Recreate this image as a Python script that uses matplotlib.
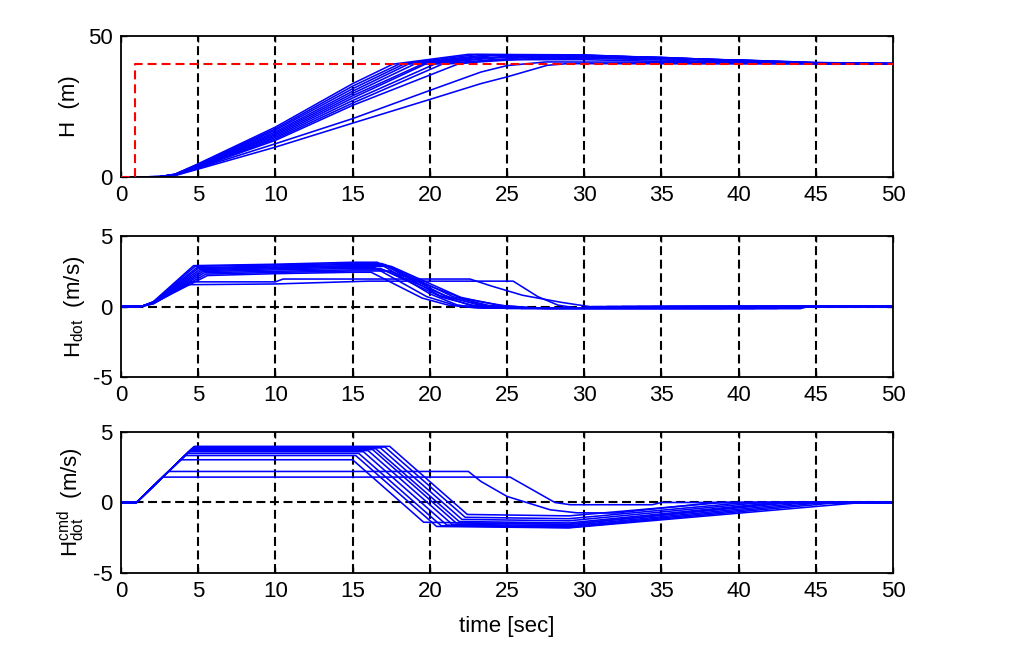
import matplotlib
matplotlib.use("Agg")
import matplotlib.pyplot as plt

plt.rcParams['font.family'] = ['Liberation Sans', 'DejaVu Sans']
plt.rcParams['mathtext.fontset'] = 'custom'
plt.rcParams['mathtext.rm'] = 'Liberation Sans'
plt.rcParams['mathtext.it'] = 'Liberation Sans'
plt.rcParams['axes.unicode_minus'] = False

# ---------------- data ----------------
X_TICKS = [0, 5, 10, 15, 20, 25, 30, 35, 40, 45, 50]

# reference altitude command
REF_T = [0, 0.9, 0.9, 50]
REF_H = [0, 0, 40, 40]

# altitude H (m): keypoint times / values for each run
H_T = [
    [0, 2.5, 3.5, 5, 10, 15, 17.6, 22.5, 30, 35, 40, 45, 50],
    [0, 2.5, 3.5, 5, 10, 15, 18.0, 23.0, 30, 35, 40, 45, 50],
    [0, 2.5, 3.5, 5, 10, 15, 18.3, 23.5, 30, 35, 40, 45, 50],
    [0, 2.5, 3.5, 5, 10, 15, 18.6, 24.0, 30, 35, 40, 45, 50],
    [0, 2.5, 3.5, 5, 10, 15, 19.0, 25.0, 30, 35, 40, 45, 50],
    [0, 2.5, 3.5, 5, 10, 15, 19.5, 23.0, 30, 35, 40, 45, 50],
    [0, 2.5, 3.5, 5, 10, 15, 19.7, 25.0, 30, 35, 40, 45, 50],
    [0, 2.5, 3.5, 5, 10, 15, 20.3, 26.0, 30, 35, 40, 45, 50],
    [0, 2.5, 3.5, 5, 10, 15, 20.8, 27.0, 30, 35, 40, 45, 50],
    [0, 2.5, 3.5, 5, 10, 15, 21.8, 24.0, 30, 35, 40, 45, 50],
    [0, 2.5, 3.5, 5, 10, 15, 20, 23.3, 25, 27.5, 35, 45, 50],
    [0, 2.5, 3.5, 5, 10, 15, 20, 23.3, 25, 27.6, 28.9, 40, 50],
]
H_V = [
    [0, 0.1, 1.0, 4.7, 17.7, 33.1, 40, 43.5, 43.3, 42.2, 40.9, 40.2, 40.1],
    [0, 0.1, 1.0, 4.5, 17.1, 32.2, 40, 43.4, 43.2, 42.3, 41.0, 40.3, 40.1],
    [0, 0.1, 0.9, 4.3, 16.6, 31.3, 40, 43.2, 43.1, 42.4, 41.2, 40.35, 40.15],
    [0, 0.1, 0.9, 4.2, 16.0, 30.4, 40, 43.0, 42.9, 42.4, 41.3, 40.4, 40.15],
    [0, 0.1, 0.9, 4.0, 15.5, 29.6, 40, 42.8, 42.7, 42.3, 41.4, 40.45, 40.2],
    [0, 0.1, 0.8, 3.9, 15.0, 28.8, 40, 42.4, 42.2, 41.5, 40.6, 40.2, 40.1],
    [0, 0.1, 0.8, 3.8, 14.5, 28.0, 40, 42.6, 42.5, 42.2, 41.4, 40.5, 40.2],
    [0, 0.1, 0.8, 3.6, 14.0, 27.1, 40, 42.3, 42.3, 42.0, 41.45, 40.55, 40.2],
    [0, 0.1, 0.7, 3.5, 13.5, 26.2, 40, 42.1, 42.1, 41.9, 41.5, 40.6, 40.25],
    [0, 0.1, 0.7, 3.3, 13.0, 25.4, 40, 41.6, 41.6, 41.0, 40.4, 40.15, 40.1],
    [0, 0.1, 0.6, 3.1, 11.8, 20.7, 30.7, 37.2, 39.5, 40.8, 40.7, 40.4, 40.3],
    [0, 0.1, 0.5, 2.8, 10.6, 19.1, 27.5, 33.1, 35.5, 39.6, 40.2, 40.1, 40.1],
]

# climb rate H_dot (m/s)
HD_T = [
    [0, 1.3, 2.1, 4.7, 10, 15, 16.6, 20.0, 21.8, 23.5, 31.0, 31.5, 50],
    [0, 1.3, 2.1, 4.8, 10, 15, 16.9, 20.6, 22.6, 24.5, 33.0, 33.5, 50],
    [0, 1.3, 2.1, 4.9, 10, 15, 17.1, 21.0, 23.2, 25.2, 35.0, 35.5, 50],
    [0, 1.3, 2.1, 5.0, 10, 15, 17.3, 21.5, 23.8, 26.0, 37.0, 37.5, 50],
    [0, 1.3, 2.1, 5.1, 10, 15, 17.5, 22.0, 24.5, 27.0, 39.0, 39.5, 50],
    [0, 1.3, 2.1, 5.2, 10, 15, 16.4, 19.8, 21.6, 23.5, 30.0, 30.5, 50],
    [0, 1.3, 2.1, 5.3, 10, 15, 16.8, 20.8, 22.8, 25.0, 41.0, 41.5, 50],
    [0, 1.3, 2.1, 5.4, 10, 15, 17.0, 21.4, 23.6, 26.0, 42.5, 43.0, 50],
    [0, 1.3, 2.1, 5.5, 10, 15, 17.4, 22.2, 24.8, 27.5, 44.0, 44.5, 50],
    [0, 1.3, 2.1, 5.6, 10, 15, 16.2, 19.5, 21.2, 23.0, 32.0, 32.5, 50],
    [0, 1.3, 2.1, 4.5, 10, 10.5, 22.6, 24.0, 26.0, 28.5, 30.0, 31.0, 36.0, 36.5, 50],
    [0, 1.3, 2.1, 4.3, 10, 16, 25.4, 27.0, 28.3, 29.5, 34.0, 34.5, 50],
]
HD_V = [
    [0, 0, 0.35, 2.90, 3.00, 3.14, 3.14, 0.90, 0.10, -0.10, -0.10, 0, 0],
    [0, 0, 0.33, 2.85, 2.95, 3.05, 3.05, 0.80, 0.10, -0.10, -0.10, 0, 0],
    [0, 0, 0.32, 2.75, 2.88, 2.98, 2.98, 0.75, 0.10, -0.12, -0.12, 0, 0],
    [0, 0, 0.30, 2.70, 2.80, 2.90, 2.90, 0.70, 0.08, -0.12, -0.12, 0, 0],
    [0, 0, 0.30, 2.62, 2.75, 2.85, 2.85, 0.65, 0.08, -0.13, -0.13, 0, 0],
    [0, 0, 0.28, 2.55, 2.68, 2.78, 2.78, 0.70, 0.10, -0.10, -0.10, 0, 0],
    [0, 0, 0.27, 2.48, 2.60, 2.70, 2.70, 0.65, 0.08, -0.14, -0.14, 0, 0],
    [0, 0, 0.26, 2.40, 2.50, 2.60, 2.60, 0.60, 0.07, -0.14, -0.14, 0, 0],
    [0, 0, 0.25, 2.30, 2.42, 2.52, 2.52, 0.55, 0.06, -0.15, -0.15, 0, 0],
    [0, 0, 0.24, 2.20, 2.33, 2.43, 2.43, 0.60, 0.10, -0.10, -0.10, 0, 0],
    [0, 0, 0.20, 1.75, 1.75, 1.95, 1.95, 1.45, 0.80, 0.30, 0.05, -0.10, -0.10, 0, 0],
    [0, 0, 0.20, 1.55, 1.60, 1.80, 1.80, 0.70, 0.10, -0.10, -0.10, 0, 0],
]

# commanded climb rate H_dot^cmd (m/s)
HC_T = [
    [0, 1.0, 4.75, 17.4, 22.43, 29, 39.0, 50],
    [0, 1.0, 4.71, 17.1, 22.29, 29, 40.5, 50],
    [0, 1.0, 4.65, 16.8, 22.08, 29, 41.5, 50],
    [0, 1.0, 4.59, 16.5, 21.90, 29, 42.5, 50],
    [0, 1.0, 4.54, 16.3, 21.70, 29, 43.5, 50],
    [0, 1.0, 4.47, 16.0, 21.45, 29, 44.5, 50],
    [0, 1.0, 4.40, 15.7, 21.10, 29, 45.5, 50],
    [0, 1.0, 4.28, 15.4, 20.74, 29, 46.5, 50],
    [0, 1.0, 4.14, 15.2, 20.44, 29, 48.0, 50],
    [0, 1.0, 3.86, 15.0, 19.60, 29, 43.0, 50],
    [0, 1.0, 3.08, 22.5, 23.3, 25.0, 27.8, 29.5, 32.0, 38.5, 50],
    [0, 1.0, 2.70, 25.2, 28.1, 29.1, 34.4, 35.0, 50],
]
HC_V = [
    [0, 0, 3.98, 3.98, -0.85, -0.95, 0, 0],
    [0, 0, 3.93, 3.93, -1.05, -1.15, 0, 0],
    [0, 0, 3.87, 3.87, -1.20, -1.30, 0, 0],
    [0, 0, 3.81, 3.81, -1.35, -1.45, 0, 0],
    [0, 0, 3.75, 3.75, -1.45, -1.55, 0, 0],
    [0, 0, 3.68, 3.68, -1.55, -1.65, 0, 0],
    [0, 0, 3.60, 3.60, -1.60, -1.72, 0, 0],
    [0, 0, 3.48, 3.48, -1.65, -1.78, 0, 0],
    [0, 0, 3.33, 3.33, -1.70, -1.80, 0, 0],
    [0, 0, 3.03, 3.03, -1.40, -1.55, 0, 0],
    [0, 0, 2.20, 2.20, 1.50, 0.43, -0.52, -0.73, -0.75, 0, 0],
    [0, 0, 1.80, 1.80, 0, -0.16, -0.16, 0, 0],
]

# ---------------- figure ----------------
FS = 16
fig = plt.figure(figsize=(10.3, 6.58), dpi=100)
left, width, height = 0.1175, 0.7495, 0.2143
ax1 = fig.add_axes([left, 0.7310, width, height])
ax2 = fig.add_axes([left, 0.4270, width, height])
ax3 = fig.add_axes([left, 0.1292, width, height])

grid_style = dict(color='black', linestyle=(0, (4.3, 2.2)), linewidth=1.5)
LINE_W = 1.15

def style(ax, ylim, yticks, zero_line):
    ax.set_xlim(0, 50)
    ax.set_ylim(*ylim)
    ax.set_xticks(X_TICKS)
    ax.set_yticks(yticks)
    ax.tick_params(direction='in', top=True, right=True, length=4, width=1,
                   labelsize=FS, color='black')
    ax.tick_params(axis='x', pad=6)
    ax.tick_params(axis='y', pad=6)
    for s in ax.spines.values():
        s.set_linewidth(1.3)
    ax.set_axisbelow(True)
    for x in X_TICKS[1:-1]:
        ax.axvline(x, zorder=1, **grid_style)
    if zero_line:
        ax.axhline(0, zorder=1, **grid_style)

for t, v in zip(H_T, H_V):
    ax1.plot(t, v, color='#0000ff', linewidth=LINE_W, zorder=2)
ax1.plot(REF_T, REF_H, color='#ff0000', linewidth=1.5, linestyle=(0, (4.3, 2.4)), zorder=3)
style(ax1, (0, 50), [0, 50], False)
ax1.set_ylabel('H  (m)', fontsize=FS, labelpad=6)

for t, v in zip(HD_T, HD_V):
    ax2.plot(t, v, color='#0000ff', linewidth=LINE_W, zorder=2)
style(ax2, (-5, 5), [-5, 0, 5], True)
ax2.set_ylabel(r'H$_{\mathrm{dot}}$  (m/s)', fontsize=FS, labelpad=4)

for t, v in zip(HC_T, HC_V):
    ax3.plot(t, v, color='#0000ff', linewidth=LINE_W, zorder=2)
style(ax3, (-5, 5), [-5, 0, 5], True)
ax3.set_ylabel(r'H$^{\mathrm{cmd}}_{\mathrm{dot}}$  (m/s)', fontsize=FS, labelpad=4)
ax3.set_xlabel('time [sec]', fontsize=FS, labelpad=10)

fig.savefig('out.png', dpi=100, facecolor='white')
